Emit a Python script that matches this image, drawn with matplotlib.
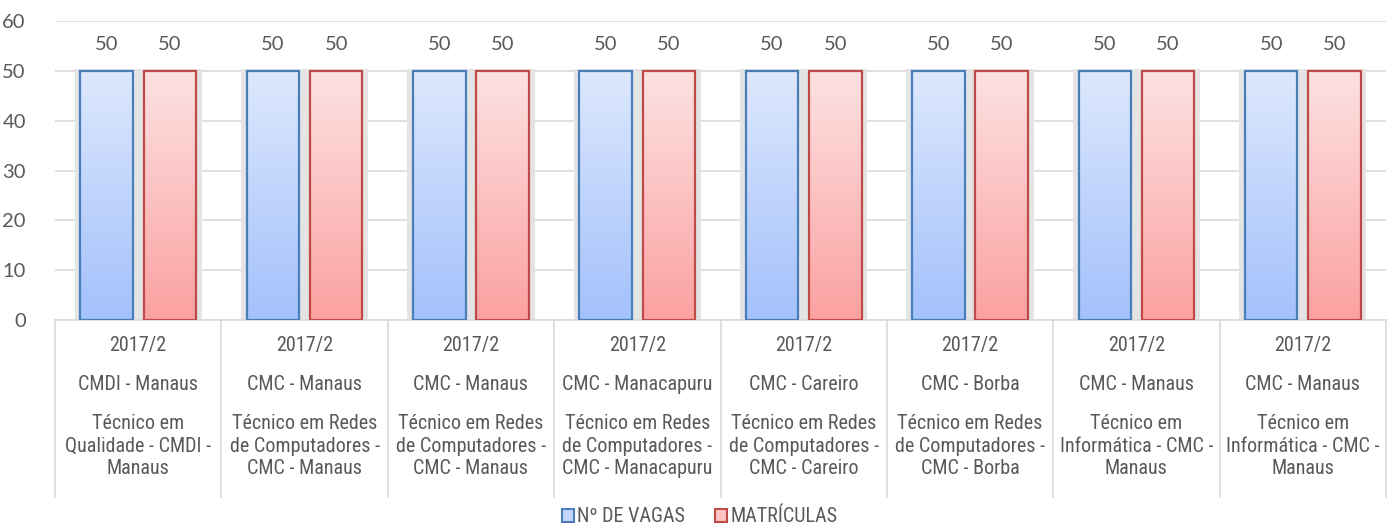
import numpy as np
import matplotlib
matplotlib.use("Agg")
import matplotlib.pyplot as plt
from matplotlib.patches import Patch
from matplotlib.colors import LinearSegmentedColormap
import matplotlib.transforms as mtransforms

periods = ["2017/2"] * 8
campus = ["CMDI - Manaus", "CMC - Manaus", "CMC - Manaus", "CMC - Manacapuru",
          "CMC - Careiro", "CMC - Borba", "CMC - Manaus", "CMC - Manaus"]
courses = ["Técnico em\nQualidade - CMDI -\nManaus",
           "Técnico em Redes\nde Computadores -\nCMC - Manaus",
           "Técnico em Redes\nde Computadores -\nCMC - Manaus",
           "Técnico em Redes\nde Computadores -\nCMC - Manacapuru",
           "Técnico em Redes\nde Computadores -\nCMC - Careiro",
           "Técnico em Redes\nde Computadores -\nCMC - Borba",
           "Técnico em\nInformática - CMC -\nManaus",
           "Técnico em\nInformática - CMC -\nManaus"]
vagas = [50, 50, 50, 50, 50, 50, 50, 50]
matriculas = [50, 50, 50, 50, 50, 50, 50, 50]
series_names = ["Nº DE VAGAS", "MATRÍCULAS"]

W, H = 1399, 529
fig = plt.figure(figsize=(W / 100, H / 100), dpi=100)
ax = fig.add_axes([55 / W, 1 - 320 / H, (1386 - 55) / W, (320 - 21) / H])

catfont = ["Roboto Condensed", "Liberation Sans", "DejaVu Sans"]
numfont = ["Lato", "Open Sans", "DejaVu Sans"]
gray = "#595959"

n = len(vagas)
x = np.arange(n)
bw = 0.315
off = 0.19

series = [
    (vagas, -off, "#4a7ebb", ["#a3c1fb", "#dde8fd"]),
    (matriculas, off, "#be4b48", ["#fba1a1", "#fde2e2"]),
]
for vals, o, ec, grad in series:
    ax.bar(x + o, np.array(vals) + 0.3, width=bw + 0.07, color="#e4e4e4",
           zorder=1, linewidth=0)
    bars = ax.bar(x + o, vals, width=bw, facecolor="none", edgecolor=ec,
                  linewidth=1.6, zorder=3)
    cmap = LinearSegmentedColormap.from_list("g", grad)
    for b in bars:
        bx, by, bwid, bh = b.get_x(), b.get_y(), b.get_width(), b.get_height()
        im = ax.imshow(np.linspace(0, 1, 256).reshape(-1, 1), cmap=cmap,
                       extent=[bx, bx + bwid, by, by + bh], origin="lower",
                       aspect="auto", zorder=2)
        im.set_clip_path(b)
        ax.text(bx + bwid / 2, by + bh + 3.5, f"{bh:g}", ha="center",
                va="bottom", fontsize=14.5, color=gray, family=numfont)

ax.set_xlim(-0.5, n - 0.5)
ax.set_ylim(0, 60)
ax.set_yticks(range(0, 61, 10))
ax.yaxis.grid(True, color="#d9d9d9", linewidth=1.2)
ax.set_axisbelow(True)
ax.tick_params(axis="y", length=0, pad=21, labelsize=14.5, labelcolor=gray)
for lab in ax.get_yticklabels():
    lab.set_family(numfont)
ax.set_xticks([])
for s in ["top", "right", "left"]:
    ax.spines[s].set_visible(False)
ax.spines["bottom"].set_color("#d9d9d9")
ax.spines["bottom"].set_linewidth(1.2)

trans = mtransforms.blended_transform_factory(ax.transData, fig.transFigure)
ybot = 1 - 497 / H
ytop = 1 - 320 / H
for b in np.arange(-0.5, n, 1.0):
    ax.plot([b, b], [ybot, ytop], transform=trans, color="#d9d9d9",
            linewidth=1.2, clip_on=False)
for i in range(n):
    ax.text(i, 1 - 345 / H, periods[i], transform=trans, ha="center",
            va="center", fontsize=14.5, color=gray, family=catfont)
    ax.text(i, 1 - 384 / H, campus[i], transform=trans, ha="center",
            va="center", fontsize=14.5, color=gray, family=catfont)
    ax.text(i, 1 - 446 / H, courses[i], transform=trans, ha="center",
            va="center", fontsize=14.5, color=gray, family=catfont,
            linespacing=1.24, multialignment="center")

handles = [Patch(facecolor="#c3d6fc", edgecolor="#4a7ebb", linewidth=1.5),
           Patch(facecolor="#fcc4c4", edgecolor="#be4b48", linewidth=1.5)]
fig.legend(handles, series_names, loc="center", bbox_to_anchor=(0.5, 1 - 517 / H),
           ncol=2, frameon=False, prop={"family": catfont, "size": 14.5},
           labelcolor=gray, handlelength=0.6, handleheight=0.6,
           handletextpad=0.15, columnspacing=1.5, borderpad=0.1)

fig.savefig("out.png", dpi=100)
